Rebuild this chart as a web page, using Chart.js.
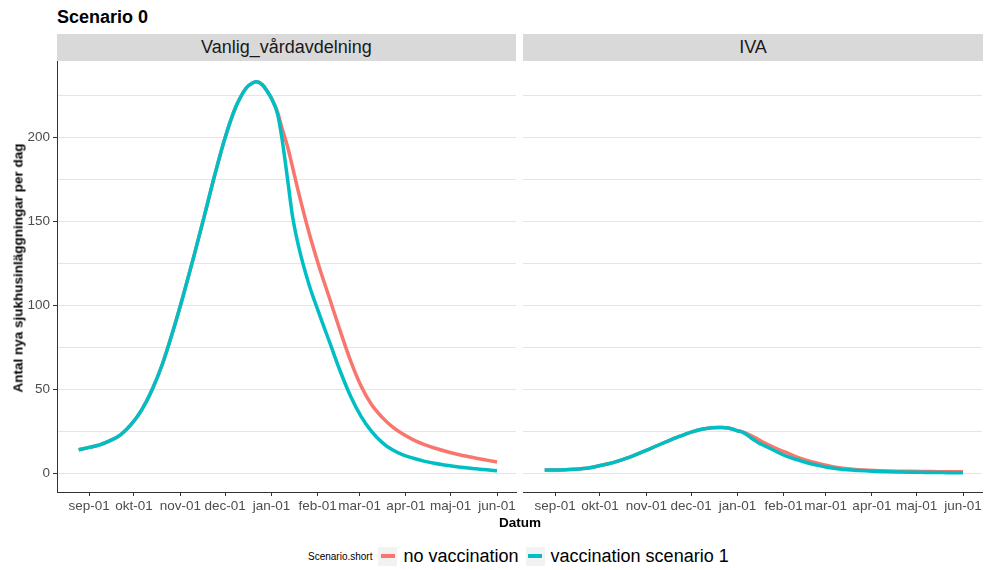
<!DOCTYPE html>
<html>
<head>
<meta charset="utf-8">
<script src="https://cdn.jsdelivr.net/npm/chart.js@4.4.1/dist/chart.umd.min.js"></script>
<style>
  body { margin: 0; background: #fff; font-family: "Liberation Sans", Arial, sans-serif; color: #1a1a1a; }
  #wrap { position: relative; width: 985px; height: 570px; overflow: hidden; }
  .abs { position: absolute; }
  .title { left: 57px; top: 7px; font-size: 18px; font-weight: bold; color: #000; }
  .strip { top: 34px; height: 27px; line-height: 27px; background: #d9d9d9; text-align: center; font-size: 18px; }
  .ytitle { left: 18px; top: 268px; font-size: 13.5px; font-weight: bold; color: #000; white-space: nowrap;
            transform: translate(-50%, -50%) rotate(-90deg); }
  .xtitle { left: 520px; top: 522px; font-size: 13.5px; font-weight: bold; color: #000; transform: translate(-50%, -50%); }
  .legend { left: 308px; top: 546px; height: 20px; display: flex; align-items: center; color: #000; }
  .legend .lt { font-size: 10px; margin-right: 6px; }
  .legend .key { width: 19px; height: 19px; background: #f2f2f2; display: flex; align-items: center; justify-content: center; margin-right: 6px; }
  .legend .key span { width: 14px; height: 4px; display: block; }
  .legend .lab { font-size: 18px; margin-right: 7px; }
</style>
</head>
<body>
<div id="wrap">
  <canvas id="vanlig" class="abs" width="525" height="500" style="left:0;top:40px"></canvas>
  <canvas id="iva" class="abs" width="467" height="500" style="left:518px;top:40px"></canvas>
  <div class="abs title">Scenario 0</div>
  <div class="abs strip" style="left:57px;width:459px">Vanlig_vårdavdelning</div>
  <div class="abs strip" style="left:523px;width:460px">IVA</div>
  <div class="abs ytitle">Antal nya sjukhusinläggningar per dag</div>
  <div class="abs xtitle">Datum</div>
  <div class="abs legend">
    <div class="lt">Scenario.short</div>
    <div class="key"><span style="background:#F8766D"></span></div>
    <div class="lab">no vaccination</div>
    <div class="key"><span style="background:#00BFC4"></span></div>
    <div class="lab">vaccination scenario 1</div>
  </div>
</div>
<script>
// sample dates (weekly, denser around the peak)
const dates = [
  '2020-08-25', '2020-09-01', '2020-09-08', '2020-09-15', '2020-09-22', '2020-09-29',
  '2020-10-06', '2020-10-13', '2020-10-20', '2020-10-27', '2020-11-03', '2020-11-10',
  '2020-11-17', '2020-11-24', '2020-12-01', '2020-12-08', '2020-12-15',
  '2020-12-19', '2020-12-22', '2020-12-26', '2020-12-29', '2021-01-01',
  '2021-01-05', '2021-01-08', '2021-01-12', '2021-01-15', '2021-01-19',
  '2021-01-26', '2021-02-02', '2021-02-09', '2021-02-16', '2021-02-23',
  '2021-03-02', '2021-03-09', '2021-03-16', '2021-03-23', '2021-03-30',
  '2021-04-06', '2021-04-13', '2021-04-20', '2021-04-27',
  '2021-05-04', '2021-05-11', '2021-05-18', '2021-05-25', '2021-06-01'
];

// Vanlig_vårdavdelning
const vanligNoVacc = [
  14.1, 15.5, 17, 19.5, 23, 29, 37.5, 49.5, 65, 84.5, 106, 129, 153, 177.5, 200, 218, 229.5,
  232.5, 233.3, 231.5, 228, 223.5,
  215.5, 206, 194, 183, 168,
  144, 123, 104, 85, 67,
  52, 41, 33.5, 27.7, 23.4,
  20, 17.3, 15.1, 13.3,
  11.7, 10.3, 9, 7.9, 6.8
];
const vanligVacc = [
  14.1, 15.5, 17, 19.5, 23, 29, 37.5, 49.5, 65, 84.5, 106, 129, 153, 177.5, 200, 218, 229.5,
  232.5, 233.3, 231.5, 228, 223.5,
  214.5, 200, 174, 154, 136,
  113, 95, 78, 61, 46,
  34, 25, 18.5, 14, 11,
  9, 7.3, 6, 5,
  4.1, 3.3, 2.7, 2.1, 1.6
];

// IVA
const ivaNoVacc = [
  2.0, 2.0, 2.1, 2.5, 3.0, 4.2, 5.6, 7.3, 9.4, 11.9, 14.5, 17.2, 19.8, 22.3, 24.6, 26.3, 27.2,
  27.4, 27.4, 27.0, 26.3, 25.4,
  24.6, 23.4, 21.6, 20.2, 18.2,
  15.2, 12.6, 10.0, 7.9, 6.2,
  4.7, 3.5, 2.7, 2.2, 1.85,
  1.6, 1.4, 1.3, 1.2,
  1.12, 1.05, 1.0, 0.95, 0.9
];
const ivaVacc = [
  2.0, 2.0, 2.1, 2.5, 3.0, 4.2, 5.6, 7.3, 9.4, 11.9, 14.5, 17.2, 19.8, 22.3, 24.6, 26.3, 27.2,
  27.4, 27.4, 27.0, 26.3, 25.4,
  24.3, 22.5, 20.0, 18.2, 16.5,
  13.5, 10.5, 8.4, 6.5, 4.9,
  3.7, 2.8, 2.1, 1.7, 1.4,
  1.1, 0.9, 0.8, 0.7,
  0.6, 0.5, 0.45, 0.4, 0.35
];

const monthTicks = ['2020-09-01', '2020-10-01', '2020-11-01', '2020-12-01', '2021-01-01',
                    '2021-02-01', '2021-03-01', '2021-04-01', '2021-05-01', '2021-06-01'];
const monthLabels = ['sep-01', 'okt-01', 'nov-01', 'dec-01', 'jan-01',
                     'feb-01', 'mar-01', 'apr-01', 'maj-01', 'jun-01'];
const yGrid = [0, 25, 50, 75, 100, 125, 150, 175, 200, 225];
const yLabelled = [0, 50, 100, 150, 200];

const RED = '#F8766D';
const TEAL = '#00BFC4';

Chart.defaults.font.family = '"Liberation Sans", Arial, sans-serif';

function dayOf(s) {
  const p = s.split('-').map(Number);
  return (Date.UTC(p[0], p[1] - 1, p[2]) - Date.UTC(2020, 8, 1)) / 86400000;
}
const xs = dates.map(dayOf);
const pts = vals => vals.map((v, i) => ({ x: xs[i], y: v }));

function makeChart(id, noVacc, vacc, isLeft) {
  const ctx = document.getElementById(id).getContext('2d');
  return new Chart(ctx, {
    type: 'line',
    data: {
      datasets: [
        { label: 'vaccination scenario 1', data: pts(vacc), borderColor: TEAL, order: 0 },
        { label: 'no vaccination', data: pts(noVacc), borderColor: RED, order: 1 }
      ]
    },
    options: {
      responsive: false,
      animation: false,
      events: [],
      layout: { padding: { top: 21, right: isLeft ? 9 : 3, bottom: 0, left: 0 } },
      elements: {
        line: { borderWidth: 3.5, cubicInterpolationMode: 'monotone', fill: false },
        point: { radius: 0 }
      },
      scales: {
        x: {
          type: 'linear',
          min: -21.5,
          max: 285.7,
          afterBuildTicks: s => { s.ticks = monthTicks.map(d => ({ value: dayOf(d) })); },
          afterFit: s => { s.height = 48; },
          ticks: {
            callback: (v, i) => monthLabels[i],
            autoSkip: false,
            maxRotation: 0,
            padding: 2,
            color: '#4d4d4d',
            font: { size: 13.5 }
          },
          grid: { drawOnChartArea: false, tickLength: 4, tickColor: '#333' },
          border: { color: '#333', width: 1 }
        },
        y: {
          min: -11.1,
          max: 245.7,
          afterBuildTicks: s => { s.ticks = yGrid.map(v => ({ value: v })); },
          afterFit: s => { s.width = isLeft ? 57 : 5; },
          ticks: {
            display: isLeft,
            callback: v => yLabelled.includes(v) ? String(v) : '',
            padding: 3,
            color: '#4d4d4d',
            font: { size: 13.5 }
          },
          grid: {
            color: '#e5e5e5',
            drawTicks: isLeft,
            tickLength: 4,
            tickColor: c => yLabelled.includes(c.tick.value) ? '#333' : 'rgba(0,0,0,0)'
          },
          border: { display: isLeft, color: '#333', width: 1 }
        }
      },
      plugins: {
        legend: { display: false },
        tooltip: { enabled: false }
      }
    }
  });
}

makeChart('vanlig', vanligNoVacc, vanligVacc, true);
makeChart('iva', ivaNoVacc, ivaVacc, false);
</script>
</body>
</html>
